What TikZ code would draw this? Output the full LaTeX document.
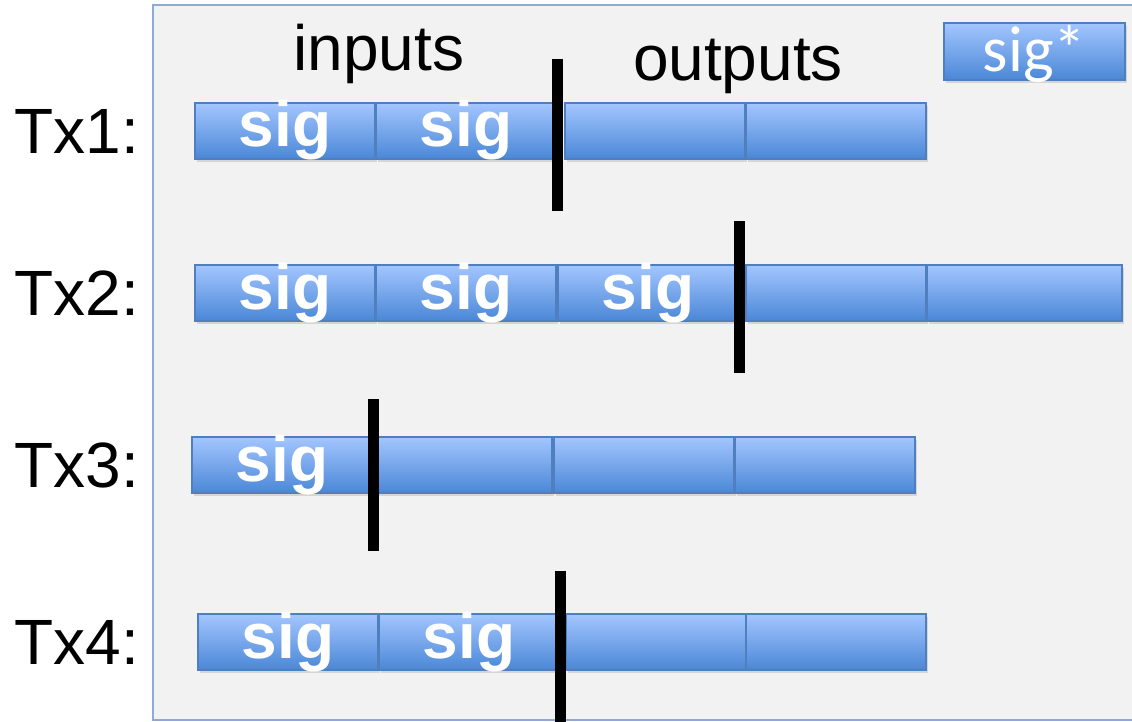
\documentclass[tikz,border=0pt]{standalone}
\usepackage{fontspec}
\setmainfont{Liberation Sans}
\newfontfamily\calib{Carlito}
\usetikzlibrary{positioning,shadows}
\definecolor{panelfill}{HTML}{F2F2F2}
\definecolor{paneledge}{HTML}{8FAAD6}
\definecolor{boxtop}{HTML}{A3C6FF}
\definecolor{boxbot}{HTML}{4A87D6}
\definecolor{boxedge}{HTML}{4F7FBF}

\begin{document}
\begin{tikzpicture}[x=1pt, y=-1pt,
  box/.style={rectangle, minimum width=180pt, minimum height=56pt, inner sep=0pt, outer sep=0pt,
    text height=32pt, text depth=0pt,
    top color=boxtop, bottom color=boxbot, draw=boxedge, line width=1.2pt,
    drop shadow={shadow xshift=1.5pt, shadow yshift=-3pt, opacity=0.25},
    text=white, font=\fontsize{64}{64}\selectfont\bfseries},
  rowname/.style={anchor=east, inner sep=0pt, font=\fontsize{64}{64}\selectfont},
  head/.style={anchor=base, inner sep=0pt, font=\fontsize{64}{64}\selectfont},
  divider/.style={line width=11pt, black},
]
\useasboundingbox (0,0) rectangle (1132,722);

% Background panel
\draw[paneledge, fill=panelfill, line width=1.5pt] (153,5) rectangle (1140,720);

\node[head] (inputs) at (379,71) {inputs};
\node[head] (outputs) at (738,81) {outputs};
\node[box, minimum width=181pt, minimum height=57pt, text height=41pt,
  font=\fontsize{65}{65}\selectfont\calib] (sigstar) at (1034.5,51.5) {sig*};

% Tx1
\node[rowname] (tx1) at (139,131) {Tx1:};
\node[box] (r1a) at (285,131) {sig};
\node[box, right=1pt of r1a] (r1b) {sig};
\node[box, right=9pt of r1b] (r1c) {};
\node[box, right=1pt of r1c] (r1d) {};

% Tx2
\node[rowname] (tx2) at (139,293) {Tx2:};
\node[box] (r2a) at (285,293) {sig};
\node[box, right=1pt of r2a] (r2b) {sig};
\node[box, right=2pt of r2b] (r2c) {sig};
\node[box, right=8pt of r2c] (r2d) {};
\node[box, minimum width=195pt, right=1pt of r2d] (r2e) {};

% Tx3
\node[rowname] (tx3) at (139,465) {Tx3:};
\node[box] (r3a) at (282,465) {sig};
\node[box, right=0pt of r3a] (r3b) {};
\node[box, right=2pt of r3b] (r3c) {};
\node[box, right=1pt of r3c] (r3d) {};

% Tx4
\node[rowname] (tx4) at (139,642) {Tx4:};
\node[box] (r4a) at (288,642) {sig};
\node[box, right=1pt of r4a] (r4b) {sig};
\node[box, right=7pt of r4b] (r4c) {};
\node[box, right=0pt of r4c] (r4d) {};

% Split between inputs and outputs
\draw[divider] (557,59) -- (557,211);
\draw[divider] (739,221) -- (739,373);
\draw[divider] (373,399) -- (373,551);
\draw[divider] (560,571) -- (560,726);

\end{tikzpicture}
\end{document}
